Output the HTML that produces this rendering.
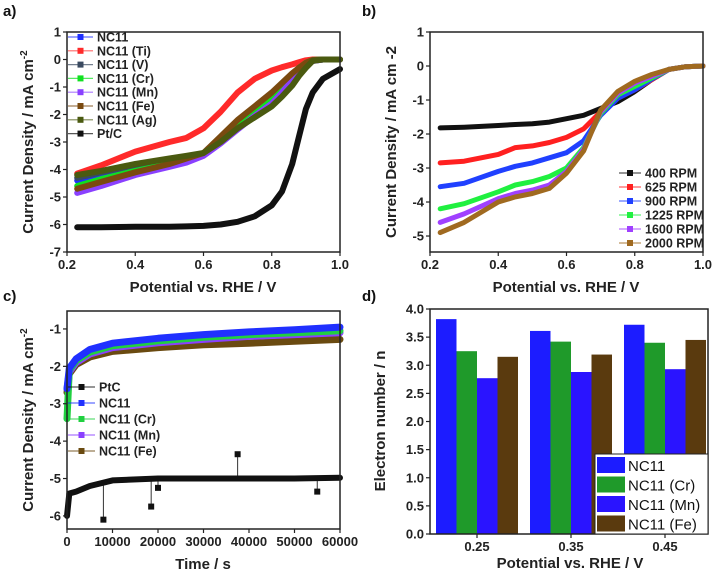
<!DOCTYPE html>
<html><head><meta charset="utf-8">
<style>
html,body{margin:0;padding:0;background:#fff;}
svg{display:block;font-family:"Liberation Sans",Arial,sans-serif;font-weight:bold;}
</style></head>
<body>
<svg id="fig" width="716" height="578" viewBox="0 0 716 578"></svg>
<script>
// ---------- Panel a data ----------
const aNames = ["NC11","NC11 (Ti)","NC11 (V)","NC11 (Cr)","NC11 (Mn)","NC11 (Fe)","NC11 (Ag)","Pt/C"];
const aX = [0.23,0.3,0.4,0.5,0.55,0.6,0.65,0.7,0.75,0.8,0.83,0.86,0.88,0.9,0.92,0.95,1.0];
const aNC11 = [-4.4,-4.25,-4.0,-3.8,-3.65,-3.45,-3.0,-2.5,-2.0,-1.5,-1.1,-0.7,-0.4,-0.2,-0.05,0,0];
const aTi   = [-4.15,-3.85,-3.35,-3.0,-2.85,-2.5,-1.9,-1.2,-0.7,-0.4,-0.28,-0.18,-0.1,-0.03,0,0,0];
const aV    = [-4.3,-4.1,-3.85,-3.7,-3.6,-3.42,-2.9,-2.4,-1.9,-1.4,-1.0,-0.6,-0.35,-0.15,-0.03,0,0];
const aCr   = [-4.6,-4.35,-4.05,-3.8,-3.65,-3.45,-2.9,-2.35,-1.85,-1.35,-0.95,-0.55,-0.3,-0.12,-0.02,0,0];
const aMn   = [-4.85,-4.6,-4.2,-3.9,-3.75,-3.5,-3.05,-2.55,-2.05,-1.6,-1.2,-0.75,-0.45,-0.2,-0.05,0,0];
const aFe   = [-4.7,-4.45,-4.1,-3.8,-3.6,-3.4,-2.8,-2.2,-1.7,-1.2,-0.85,-0.5,-0.3,-0.12,-0.02,0,0];
const aAg   = [-4.2,-4.05,-3.8,-3.6,-3.5,-3.4,-3.0,-2.5,-2.1,-1.7,-1.35,-0.95,-0.6,-0.3,-0.05,0,0];
const aPt   = [-6.1,-6.1,-6.08,-6.08,-6.07,-6.05,-6.0,-5.9,-5.7,-5.3,-4.8,-3.8,-2.8,-1.8,-1.2,-0.7,-0.35];
const aSeries = [aNC11,aTi,aV,aCr,aMn,aFe,aAg,aPt];
const aColors = ["#2030ff","#ff2a2a","#3a4a60","#10e020","#8a40ff","#7a4a10","#4a5a10","#111111"];
const aXTicks = [0.2,0.4,0.6,0.8,1.0];
const aYTicks = [1,0,-1,-2,-3,-4,-5,-6,-7];

// ---------- Panel b data ----------
const bNames = ["400 RPM","625 RPM","900 RPM","1225 RPM","1600 RPM","2000 RPM"];
const bX = [0.23,0.3,0.4,0.45,0.5,0.55,0.6,0.65,0.7,0.75,0.8,0.85,0.9,0.95,1.0];
const b400  = [-1.82,-1.8,-1.75,-1.72,-1.7,-1.65,-1.55,-1.45,-1.25,-1.05,-0.75,-0.4,-0.1,-0.02,0];
const b625  = [-2.85,-2.8,-2.6,-2.4,-2.35,-2.25,-2.1,-1.85,-1.35,-0.95,-0.7,-0.4,-0.1,-0.02,0];
const b900  = [-3.55,-3.45,-3.1,-2.95,-2.85,-2.7,-2.55,-2.2,-1.45,-0.95,-0.7,-0.38,-0.1,-0.02,0];
const b1225 = [-4.2,-4.05,-3.7,-3.5,-3.4,-3.25,-3.0,-2.4,-1.4,-0.85,-0.6,-0.35,-0.1,-0.02,0];
const b1600 = [-4.6,-4.35,-3.9,-3.75,-3.65,-3.5,-3.1,-2.45,-1.35,-0.8,-0.5,-0.3,-0.1,-0.02,0];
const b2000 = [-4.9,-4.6,-4.0,-3.85,-3.75,-3.6,-3.15,-2.5,-1.3,-0.75,-0.45,-0.25,-0.1,-0.02,0];
const bSeries = [b400,b625,b900,b1225,b1600,b2000];
const bColors = ["#111111","#ff2020","#2040ff","#20f040","#a040ff","#a06a20"];
const bXTicks = [0.2,0.4,0.6,0.8,1.0];
const bYTicks = [1,0,-1,-2,-3,-4,-5];

// ---------- Panel c data ----------
const cNames = ["PtC","NC11","NC11 (Cr)","NC11 (Mn)","NC11 (Fe)"];
const cT = [0,500,2000,5000,10000,20000,30000,40000,50000,60000];
const cPt  = [-6.0,-5.4,-5.35,-5.2,-5.05,-5.0,-5.0,-5.0,-5.0,-4.98];
const cNC11= [-2.6,-2.05,-1.8,-1.55,-1.38,-1.25,-1.15,-1.08,-1.02,-0.95];
const cCr  = [-3.4,-2.1,-1.85,-1.62,-1.45,-1.32,-1.22,-1.15,-1.1,-1.05];
const cMn  = [-2.6,-2.15,-1.9,-1.67,-1.5,-1.37,-1.28,-1.2,-1.15,-1.1];
const cFe  = [-2.7,-2.2,-1.95,-1.75,-1.6,-1.5,-1.42,-1.38,-1.33,-1.28];
const cSeries = [cPt,cNC11,cCr,cMn,cFe];
const cColors = ["#111111","#2030ff","#20d040","#8a40ff","#6a4a10"];
const cSpikeT = [8000,18500,20000,37500,55000];
const cSpikeV = [-6.1,-5.75,-5.25,-4.35,-5.35];
const cXTicks = [0,10000,20000,30000,40000,50000,60000];
const cYTicks = [-1,-2,-3,-4,-5,-6];

// ---------- Panel d data ----------
const dCats = ["0.25","0.35","0.45"];
const dNames = ["NC11","NC11 (Cr)","NC11 (Mn)","NC11 (Fe)"];
const dNC11 = [3.82,3.61,3.72];
const dCr   = [3.25,3.42,3.40];
const dMn   = [2.77,2.88,2.93];
const dFe   = [3.15,3.19,3.45];
const dSeries = [dNC11,dCr,dMn,dFe];
const dColors = ["#1c1cff","#1f9a2a","#2a14ff","#5a3a0e"];
const dYTicks = [0,0.5,1.0,1.5,2.0,2.5,3.0,3.5,4.0];

const NS="http://www.w3.org/2000/svg";
const fig=document.getElementById('fig');
function el(tag,attrs,parent,text){
  const e=document.createElementNS(NS,tag);
  for(const k in attrs) e.setAttribute(k,attrs[k]);
  if(text!==undefined) e.textContent=text;
  (parent||fig).appendChild(e);
  return e;
}
function scale(d0,d1,r0,r1){return v=>r0+(v-d0)*(r1-r0)/(d1-d0);}

function axesBox(g,L,R,T,B){
  const r=el('rect',{x:L,y:T,width:R-L,height:B-T,fill:'none',stroke:'#222','stroke-width':1.5},g);
  
  
}
function xTicks(g,ticks,sx,B,fmt){
  ticks.forEach(t=>{
    el('line',{x1:sx(t),x2:sx(t),y1:B,y2:B+4,stroke:'#222','stroke-width':1.2},g);
    const tx=el('text',{x:sx(t),y:B+17,'text-anchor':'middle','font-size':13,fill:'#222'},g,fmt(t));
    
    
  });
}
function yTicks(g,ticks,sy,L,fmt){
  ticks.forEach(t=>{
    el('line',{x1:L-4,x2:L,y1:sy(t),y2:sy(t),stroke:'#222','stroke-width':1.2},g);
    const tx=el('text',{x:L-6,y:sy(t)+4.5,'text-anchor':'end','font-size':13,fill:'#222'},g,fmt(t));
    
    
  });
}
function lineSeries(g,xs,ys,sx,sy,color,w,name){
  const pts=xs.map((x,i)=>sx(x).toFixed(1)+','+sy(ys[i]).toFixed(1)).join(' ');
  const p=el('polyline',{points:pts,fill:'none',stroke:color,'stroke-width':w,'stroke-linejoin':'round','stroke-linecap':'round'},g);
  
  
}
function label(txt,x,y,name){
  const t=el('text',{x:x,y:y,'font-size':15,fill:'#111'},fig,txt);
  
  
}
function xTitle(txt,x,y){
  const t=el('text',{x:x,y:y,'text-anchor':'middle','font-size':15,fill:'#222'},fig,txt);
  
  
}
function yTitle(parts,x,y){
  const t=el('text',{x:0,y:0,'text-anchor':'middle','font-size':15,fill:'#222',transform:`translate(${x},${y}) rotate(-90)`});
  
  
  el('tspan',{},t,parts[0]);
  if(parts[1]) el('tspan',{dy:-6,'font-size':10},t,parts[1]);
}
function legendLine(g,x1,x2,y,color,text,name){
  const gg=el('g',{},g);
  
  
  el('line',{x1:x1,x2:x2,y1:y,y2:y,stroke:color,'stroke-width':1.2,opacity:0.7},gg);
  el('rect',{x:(x1+x2)/2-3,y:y-3,width:6,height:6,fill:color},gg);
  el('text',{x:x2+4,y:y+4.5,'font-size':12.5,fill:'#222'},gg,text);
}

// ---------- Panel a ----------
(function(){
  const L=67,R=340,T=32,B=252;
  const g=el('g',{});  
  const sx=scale(0.2,1.0,L,R), sy=scale(1,-7,T,B);
  aSeries.forEach((s,i)=>lineSeries(g,aX,s,sx,sy,aColors[i],6,'line-'+aNames[i].toLowerCase().replace(/[^a-z0-9]+/g,'-')));
  axesBox(g,L,R,T,B);
  xTicks(g,aXTicks,sx,B,t=>t.toFixed(1));
  yTicks(g,aYTicks,sy,L,t=>String(t));
  aNames.forEach((n,i)=>legendLine(g,68,93,37+i*13.8,aColors[i],n,'legend-entry'));
  label('a)',3,16,'panel-label-a');
  xTitle('Potential vs. RHE / V',203,292);
  yTitle(['Current Density / mA cm','-2'],33,142);
})();

// ---------- Panel b ----------
(function(){
  const L=430,R=703,T=32,B=252;
  const g=el('g',{});  
  const sx=scale(0.2,1.0,L,R), sy=scale(1,-5.47,T,B);
  bSeries.forEach((s,i)=>lineSeries(g,bX,s,sx,sy,bColors[i],5,'line-'+bNames[i].toLowerCase().replace(/[^a-z0-9]+/g,'-')));
  axesBox(g,L,R,T,B);
  xTicks(g,bXTicks,sx,B,t=>t.toFixed(1));
  yTicks(g,bYTicks,sy,L,t=>String(t));
  bNames.forEach((n,i)=>legendLine(g,619,641,173+i*14,bColors[i],n,'legend-entry'));
  label('b)',362,16,'panel-label-b');
  xTitle('Potential vs. RHE / V',566,292);
  const t=el('text',{x:0,y:0,'text-anchor':'middle','font-size':15,fill:'#222',transform:'translate(396,142) rotate(-90)'});
   
  t.textContent='Current Density / mA cm -2';
})();

// ---------- Panel c ----------
(function(){
  const L=67,R=340,T=311,B=529;
  const g=el('g',{});  
  const sx=scale(0,60000,L,R), sy=scale(-0.52,-6.35,T,B);
  cSpikeT.forEach((t,i)=>{
    let j=cT.findIndex(v=>v>t); const base=cSeries[0][j];
    const l=el('line',{x1:sx(t),x2:sx(t),y1:sy(base),y2:sy(cSpikeV[i]),stroke:'#333','stroke-width':1},g);
     
    const m=el('rect',{x:sx(t)-3,y:sy(cSpikeV[i])-3,width:6,height:6,fill:'#111'},g);
     
  });
  [4,3,2,1,0].forEach(i=>lineSeries(g,cT,cSeries[i],sx,sy,cColors[i],i===0?6:7,'line-'+cNames[i].toLowerCase().replace(/[^a-z0-9]+/g,'-')));
  axesBox(g,L,R,T,B);
  xTicks(g,cXTicks,sx,B,t=>String(t));
  yTicks(g,cYTicks,sy,L,t=>String(t));
  cNames.forEach((n,i)=>legendLine(g,68,95,387+i*16,cColors[i],n,'legend-entry'));
  label('c)',3,301,'panel-label-c');
  xTitle('Time / s',203,569);
  yTitle(['Current Density / mA cm','-2'],33,420);
})();

// ---------- Panel d ----------
(function(){
  const L=430,R=708,T=309,B=534;
  const g=el('g',{});  
  const sy=scale(0,4.0,B,T);
  const cx=i=>477+i*94; const bw=20.5;
  dSeries.forEach((s,k)=>{
    s.forEach((v,i)=>{
      const x=cx(i)-2*bw+k*bw;
      const r=el('rect',{x:x,y:sy(v),width:bw,height:B-sy(v),fill:dColors[k]},g);
      
      
    });
  });
  axesBox(g,L,R,T,B);
  dCats.forEach((c,i)=>{
    el('line',{x1:cx(i),x2:cx(i),y1:B,y2:B+4,stroke:'#222','stroke-width':1.2},g);
    const t=el('text',{x:cx(i),y:B+17,'text-anchor':'middle','font-size':13,fill:'#222'},g,c);
     
  });
  yTicks(g,dYTicks,sy,L,t=>t.toFixed(1));
  const lg=el('g',{},g);  
  el('rect',{x:595,y:454,width:113,height:80,fill:'#fff',stroke:'#222','stroke-width':1},lg);
  dNames.forEach((n,i)=>{
    const gg=el('g',{},lg);  
    el('rect',{x:597,y:457+i*19.5,width:28,height:16,fill:dColors[i]},gg);
    el('text',{x:628,y:471+i*19.5,'font-size':15,'font-weight':'normal',fill:'#111'},gg,n);
  });
  label('d)',362,301,'panel-label-d');
  xTitle('Potential vs. RHE / V',570,568);
  const t=el('text',{x:0,y:0,'text-anchor':'middle','font-size':15,fill:'#222',transform:'translate(385,421) rotate(-90)'});
   
  t.textContent='Electron number / n';
})();
</script>
</body></html>
